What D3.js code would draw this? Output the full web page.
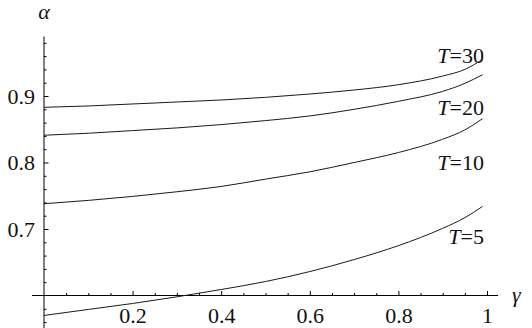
<!DOCTYPE html>
<html>
<head>
<meta charset="utf-8">
<script src="https://cdn.jsdelivr.net/npm/d3@7"></script>
</head>
<body style="margin:0">
<svg width="532" height="328" style="display:block"></svg>
<script>
    // gamma samples along the horizontal axis
    var gamma = [0, 0.1, 0.2, 0.3, 0.4, 0.5, 0.6, 0.7, 0.8, 0.9, 0.95, 0.99];

    // alpha for each T
    var alphaT30 = [0.883, 0.885, 0.888, 0.891, 0.894, 0.898, 0.903, 0.909, 0.917, 0.930, 0.940, 0.955];
    var alphaT20 = [0.841, 0.844, 0.848, 0.852, 0.857, 0.863, 0.870, 0.880, 0.892, 0.907, 0.919, 0.932];
    var alphaT10 = [0.738, 0.743, 0.749, 0.756, 0.764, 0.775, 0.786, 0.800, 0.815, 0.835, 0.849, 0.866];
    var alphaT5  = [0.570, 0.579, 0.588, 0.598, 0.609, 0.621, 0.636, 0.654, 0.675, 0.701, 0.717, 0.734];

    var seriesNames = ["30", "20", "10", "5"];
    // where each "T=.." label sits, in data units (gamma, alpha of baseline)
    var labelGamma = [0.993, 0.993, 0.993, 0.993];
    var labelAlpha = [0.949, 0.871, 0.788, 0.678];

    var xMajor = [0.2, 0.4, 0.6, 0.8, 1];
    var yMajor = [0.7, 0.8, 0.9];

    var svg = d3.select("svg");

    // same text look everywhere
    function serif(sel) {
        return sel.style("font-family", "'Liberation Serif'").style("font-size", "22px").style("fill", "#111");
    }

    var x = d3.scaleLinear().domain([0, 1]).range([44, 487]);
    var y = d3.scaleLinear().domain([0.6, 0.9]).range([295.5, 96]);

    // axes cross at (0, 0.6), Mathematica style
    var xAxisG = svg.append("g").attr("transform", "translate(0," + y(0.6) + ")");
    var yAxisG = svg.append("g").attr("transform", "translate(" + x(0) + ",0)");

    // minor ticks
    xAxisG.call(d3.axisBottom(x)
        .tickValues(d3.range(0.05, 1.001, 0.05).filter(function (v) { return Math.abs(v * 5 - Math.round(v * 5)) > 1e-6; }))
        .tickSize(-2.5).tickFormat(""));
    yAxisG.call(d3.axisLeft(y)
        .tickValues(d3.range(0.56, 0.985, 0.02).filter(function (v) { return Math.abs(v * 10 - Math.round(v * 10)) > 1e-6; }))
        .tickSize(-2.5).tickFormat(""));

    // major ticks with labels
    xAxisG.append("g").call(d3.axisBottom(x)
        .tickValues(xMajor).tickSize(-4.5).tickPadding(11.5)
        .tickFormat(function (d) { return d === 1 ? "1" : d3.format(".1f")(d); }));
    yAxisG.append("g").call(d3.axisLeft(y)
        .tickValues(yMajor).tickSize(-4.5).tickPadding(9)
        .tickFormat(d3.format(".1f")));

    svg.selectAll(".domain").remove();
    svg.selectAll("g").attr("font-family", null).attr("font-size", null);
    svg.selectAll(".tick line").attr("stroke", "#000").attr("stroke-width", 1);
    serif(svg.selectAll(".tick text"));

    // axis lines
    svg.append("line")
        .attr("x1", x(-0.027)).attr("x2", x(1.025))
        .attr("y1", y(0.6)).attr("y2", y(0.6))
        .attr("stroke", "#000").attr("stroke-width", 1);
    svg.append("line")
        .attr("x1", x(0)).attr("x2", x(0))
        .attr("y1", y(0.545)).attr("y2", y(0.9895))
        .attr("stroke", "#000").attr("stroke-width", 1);

    // curves
    var line = d3.line()
        .x(function (d) { return x(d[0]); })
        .y(function (d) { return y(d[1]); })
        .curve(d3.curveMonotoneX);

    var allSeries = [alphaT30, alphaT20, alphaT10, alphaT5];
    allSeries.forEach(function (vals) {
        svg.append("path")
            .datum(gamma.map(function (g, i) { return [g, vals[i]]; }))
            .attr("d", line)
            .attr("fill", "none")
            .attr("stroke", "#1a1a1a")
            .attr("stroke-width", 1);
    });

    // curve labels
    seriesNames.forEach(function (name, i) {
        var t = serif(svg.append("text"))
            .attr("x", x(labelGamma[i]))
            .attr("y", y(labelAlpha[i]))
            .attr("text-anchor", "end");
        t.append("tspan").style("font-style", "italic").text("T");
        t.append("tspan").text("=" + name);
    });

    // axis names
    serif(svg.append("text"))
        .attr("x", x(0)).attr("y", 19)
        .attr("text-anchor", "middle")
        .style("font-style", "italic")
        .text("α");
    serif(svg.append("text"))
        .attr("x", 512).attr("y", y(0.6) + 6)
        .style("font-style", "italic")
        .text("γ");
</script>
</body>
</html>
